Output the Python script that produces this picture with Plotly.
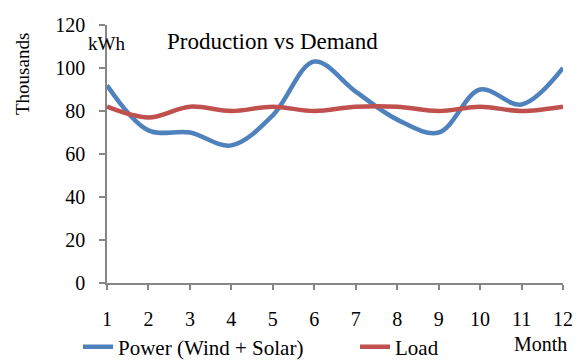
import plotly.graph_objects as go

months = [1, 2, 3, 4, 5, 6, 7, 8, 9, 10, 11, 12]
power = [92, 71, 70, 64, 78, 103, 89, 76, 70, 90, 83, 100]
load = [82, 77, 82, 80, 82, 80, 82, 82, 80, 82, 80, 82]
y_ticks = [0, 20, 40, 60, 80, 100, 120]

FONT = "Liberation Serif, Times New Roman, serif"
W, H = 578, 361
L, R, T, B = 107, 15, 25, 78
pw, ph = W - L - R, H - T - B

def px_x(p):
    return (p - L) / pw

def px_y(p):
    return (H - B - p) / ph

fig = go.Figure()
fig.add_trace(go.Scatter(x=months, y=power, mode="lines", name="Power (Wind + Solar)",
                         line=dict(color="#4F81BD", width=4.5, shape="spline")))
fig.add_trace(go.Scatter(x=months, y=load, mode="lines", name="Load",
                         line=dict(color="#C0504D", width=4.5, shape="spline")))

def ann(text, x, y, size, angle=0):
    return dict(text=text, xref="paper", yref="paper", x=px_x(x), y=px_y(y),
                xanchor="center", yanchor="middle", textangle=angle,
                showarrow=False, font=dict(family=FONT, size=size, color="black"))

fig.update_layout(
    width=W, height=H,
    margin=dict(l=L, r=R, t=T, b=B, autoexpand=False),
    paper_bgcolor="white", plot_bgcolor="white",
    font=dict(family=FONT, size=20, color="black"),
    showlegend=True,
    legend=dict(orientation="h", x=px_x(78), y=px_y(347), xanchor="left", yanchor="middle",
                font=dict(family=FONT, size=21, color="black"), entrywidth=232, entrywidthmode="pixels",
                bgcolor="rgba(0,0,0,0)", itemclick=False),
    xaxis=dict(range=[1, 12], tickvals=months, ticktext=[str(m) for m in months],
               showgrid=False, zeroline=False, showline=True, linecolor="#868686", linewidth=1.5,
               ticks="outside", ticklen=5, tickcolor="#868686", tickwidth=1.5,
               ticklabelstandoff=12, tickfont=dict(family=FONT, size=20)),
    yaxis=dict(range=[0, 120], tickvals=y_ticks, showgrid=False, zeroline=False,
               showline=True, linecolor="#868686", linewidth=1.5,
               ticks="outside", ticklen=6, tickcolor="#868686", tickwidth=1.5,
               ticklabelstandoff=10, tickfont=dict(family=FONT, size=20)),
    annotations=[
        ann("Production vs Demand", 272, 41, 23),
        ann("kWh", 106, 43, 19),
        ann("Thousands", 22, 74, 19, -90),
        ann("Month", 540, 344, 20),
    ],
)

fig.write_html("out.html")
